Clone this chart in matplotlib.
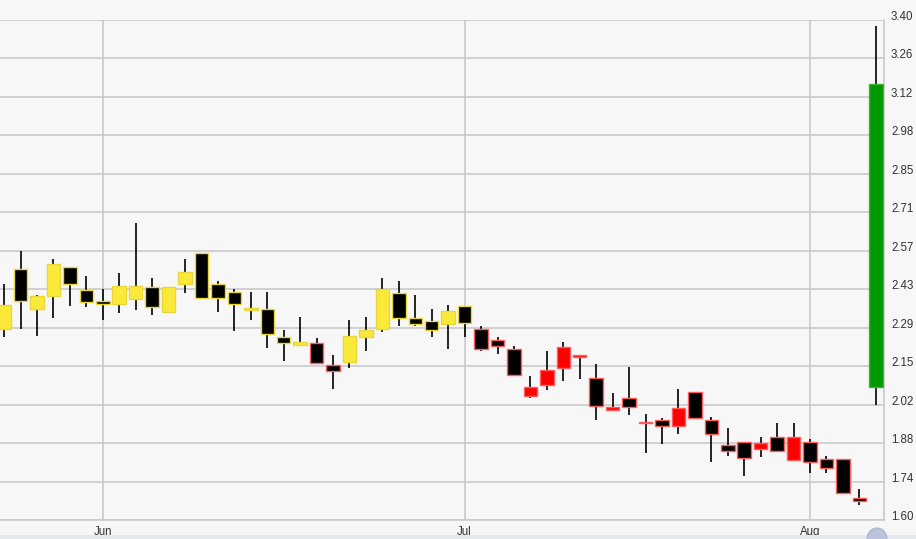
import numpy as np
import matplotlib
matplotlib.use('Agg')
import matplotlib.pyplot as plt
from matplotlib.patches import Rectangle, Ellipse
from matplotlib.transforms import ScaledTranslation

# Daily candles, one per trading day (late May to early Aug)
opens = [2.287, 2.503, 2.359, 2.406, 2.510, 2.427, 2.388, 2.377, 2.395, 2.438,
         2.348, 2.449, 2.560, 2.449, 2.420, 2.355, 2.359, 2.258, 2.229, 2.237,
         2.157, 2.168, 2.258, 2.287, 2.416, 2.326, 2.316, 2.305, 2.370, 2.287,
         2.247, 2.215, 2.046, 2.086, 2.147, 2.186, 2.111, 1.996, 2.039, 1.949,
         1.960, 1.938, 2.060, 1.960, 1.870, 1.881, 1.855, 1.899, 1.816, 1.881,
         1.819, 1.819, 1.679, 2.080]
highs = [2.449, 2.567, 2.409, 2.539, 2.510, 2.478, 2.431, 2.488, 2.668, 2.470,
         2.438, 2.539, 2.560, 2.460, 2.431, 2.420, 2.420, 2.283, 2.330, 2.255,
         2.193, 2.319, 2.330, 2.470, 2.460, 2.409, 2.359, 2.373, 2.370, 2.298,
         2.258, 2.226, 2.118, 2.208, 2.240, 2.193, 2.161, 2.057, 2.150, 1.981,
         1.967, 2.071, 2.060, 1.970, 1.931, 1.881, 1.899, 1.949, 1.949, 1.891,
         1.830, 1.819, 1.712, 3.375]
lows = [2.258, 2.287, 2.262, 2.326, 2.370, 2.366, 2.319, 2.344, 2.355, 2.337,
        2.348, 2.416, 2.398, 2.348, 2.280, 2.319, 2.219, 2.172, 2.229, 2.165,
        2.071, 2.147, 2.208, 2.276, 2.298, 2.298, 2.258, 2.215, 2.258, 2.208,
        2.197, 2.118, 2.039, 2.068, 2.100, 2.107, 1.960, 1.996, 1.978, 1.841,
        1.873, 1.909, 1.967, 1.809, 1.830, 1.758, 1.827, 1.848, 1.816, 1.769,
        1.769, 1.694, 1.654, 2.014]
closes = [2.373, 2.388, 2.406, 2.521, 2.449, 2.384, 2.377, 2.442, 2.442, 2.366,
          2.438, 2.492, 2.398, 2.398, 2.377, 2.362, 2.269, 2.237, 2.240, 2.165,
          2.136, 2.262, 2.283, 2.431, 2.326, 2.305, 2.283, 2.352, 2.308, 2.215,
          2.226, 2.121, 2.078, 2.139, 2.222, 2.193, 2.010, 2.006, 2.006, 1.952,
          1.938, 2.003, 1.967, 1.909, 1.848, 1.823, 1.877, 1.848, 1.899, 1.809,
          1.787, 1.697, 1.668, 3.167]

# Signal state per candle: N = neutral, S = sell, B = buy
signal = ['N', 'N', 'N', 'N', 'N', 'N', 'N', 'N', 'N', 'N',
          'N', 'N', 'N', 'N', 'N', 'N', 'N', 'N', 'N', 'S',
          'S', 'N', 'N', 'N', 'N', 'N', 'N', 'N', 'N', 'S',
          'S', 'S', 'S', 'S', 'S', 'S', 'S', 'S', 'S', 'S',
          'S', 'S', 'S', 'S', 'S', 'S', 'S', 'S', 'S', 'S',
          'S', 'S', 'S', 'B']

# First trading day of each month (index into the candles)
month_starts = [6, 28, 49]
month_labels = ['Jun', 'Jul', 'Aug']

# Price axis
y_min, y_max = 1.60, 3.40
n_ticks = 14

fill_colors = {'N': '#FBE93A', 'S': '#FF0000', 'B': '#009900'}
edge_colors = {'N': '#E9D63C', 'S': '#FF5C5C', 'B': '#3CB43C'}

bg = '#F7F7F7'
grid_col = '#C6C6C6'

fig = plt.figure(figsize=(9.16, 5.39), dpi=100, facecolor=bg)
ax = fig.add_axes([0.0, 19 / 539, 884 / 916, 500.5 / 539], facecolor=bg)

x = np.arange(len(opens))
o = np.array(opens)
h = np.array(highs)
l = np.array(lows)
c = np.array(closes)

up = c >= o
fills = [fill_colors[s] if u else 'black' for s, u in zip(signal, up)]
edges = [edge_colors[s] for s in signal]

# Wicks first, bodies on top
ax.vlines(x, l, h, color='black', linewidth=1.2, zorder=2)
ax.bar(x, np.abs(c - o), bottom=np.minimum(o, c), width=0.82,
       color=fills, edgecolor=edges, linewidth=1.0, zorder=3)

ax.set_xlim(-0.25, 53.5)
ax.set_ylim(y_min, y_max)

yt = np.linspace(y_min, y_max, n_ticks)
ax.set_yticks(yt)
ax.set_yticklabels(['%.2f' % v for v in yt])
ax.yaxis.tick_right()
ax.set_xticks(month_starts)
ax.set_xticklabels(month_labels)

ax.tick_params(axis='both', length=0, labelsize=8.3, colors='#333333')
ax.tick_params(axis='y', pad=5)
ax.tick_params(axis='x', pad=4)
for lab in ax.get_yticklabels():
    lab.set_fontfamily('Liberation Sans')
    lab.set_transform(lab.get_transform() + ScaledTranslation(0, 3 / 72, fig.dpi_scale_trans))
for lab in ax.get_xticklabels():
    lab.set_fontfamily('Liberation Sans')

ax.grid(True, color=grid_col, linewidth=1.1, zorder=0)
ax.set_axisbelow(True)
for side in ['left', 'top']:
    ax.spines[side].set_visible(False)
for side in ['right', 'bottom']:
    ax.spines[side].set_color(grid_col)
    ax.spines[side].set_linewidth(1.1)

# Navigator strip at the bottom edge
fig.patches.append(Rectangle((0, 0), 1, 4 / 539, transform=fig.transFigure,
                             facecolor='#E3E8EE', edgecolor='none'))
fig.patches.append(Ellipse((877 / 916, 0), 20 / 916, 22 / 539, transform=fig.transFigure,
                           facecolor='#BCC3DC', edgecolor='#AEB5CF', linewidth=0.8))

fig.savefig('out.png', dpi=100, facecolor=bg)
